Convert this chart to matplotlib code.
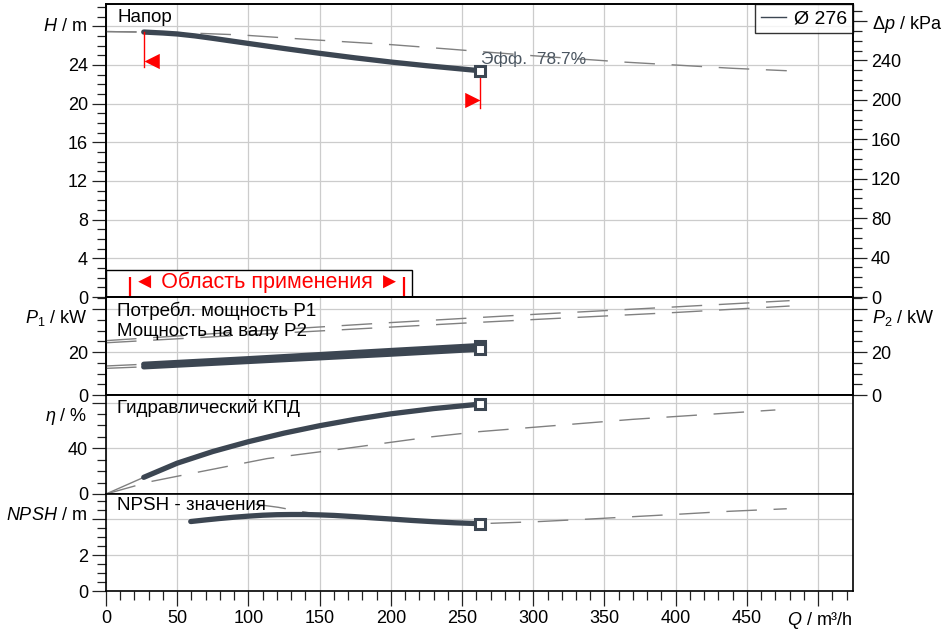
import numpy as np
import matplotlib
matplotlib.use('Agg')
import matplotlib.pyplot as plt
from matplotlib.ticker import MultipleLocator, FuncFormatter
from matplotlib.lines import Line2D
from matplotlib.patches import Rectangle

plt.rcParams['font.family'] = ['Liberation Sans', 'DejaVu Sans']
plt.rcParams['mathtext.fontset'] = 'custom'
plt.rcParams['mathtext.rm'] = 'Liberation Sans'
plt.rcParams['mathtext.it'] = 'Liberation Sans:italic'

# --- data ---
# head, solid (working curve) and the long dashed curve
q_h = [26.5, 40, 50, 62.5, 75, 100, 125, 150, 175, 200, 225, 262.6]
h_h = [27.4, 27.3, 27.2, 27.0, 26.75, 26.22, 25.7, 25.2, 24.73, 24.3, 23.92, 23.4]
q_h_ext = [0, 26.5]
h_h_ext = [27.45, 27.4]
q_h_d = [0, 50, 95, 140, 200, 240, 300, 363, 440, 478]
h_h_d = [27.45, 27.35, 27.1, 26.65, 26.1, 25.65, 24.95, 24.3, 23.65, 23.4]

# power P1 / P2
q_p = [26.5, 100, 150, 200, 262.6]
p1 = [14.3, 16.9, 18.8, 20.7, 23.0]
p2 = [13.1, 15.6, 17.3, 19.0, 21.3]
q_p_ext = [0, 26.5]
p1_ext = [13.5, 14.3]
p2_ext = [12.4, 13.1]
q_p_d = [0, 100, 200, 250, 300, 400, 480]
p1_d = [25.3, 29.6, 33.7, 35.6, 37.5, 41.0, 43.9]
p2_d = [24.3, 28.0, 31.6, 33.4, 35.1, 38.4, 41.4]

# hydraulic efficiency
q_eta = [26.5, 50, 75, 100, 125, 150, 175, 200, 230, 262.6]
eta = [14.6, 27.0, 37.2, 45.8, 53.3, 59.8, 65.4, 70.2, 74.8, 78.7]
q_eta_ext = [0, 26.5]
eta_ext = [0, 14.6]
q_eta_d = [0, 31, 60, 113, 160, 228, 262, 370, 470]
eta_d = [0, 10.8, 18.0, 31.0, 38.5, 50.0, 54.6, 65.4, 73.6]

# NPSH
q_npsh = [59.5, 70, 80, 90, 100, 110, 120, 130, 140, 150, 160, 175, 190, 200,
          215, 230, 245, 262.6]
npsh = [3.86, 3.95, 4.03, 4.1, 4.16, 4.21, 4.24, 4.25, 4.25, 4.23, 4.2, 4.13,
        4.05, 4.0, 3.92, 3.85, 3.79, 3.74]
q_npsh_d = [105, 121, 134, 146, 160, 200, 230, 262.6, 302, 340, 370, 405, 438, 478]
npsh_d = [4.82, 4.65, 4.46, 4.3, 4.2, 4.0, 3.85, 3.74, 3.85, 4.0, 4.13, 4.28, 4.43, 4.57]

app_range = [16.6, 209]
diameter = 'Ø 276'
rho_g = 9.81  # kPa per m

dark = '#3c4652'
grey = '#808080'
red = '#ff0000'

fig = plt.figure(figsize=(9.44, 6.34), dpi=100)

def rect(top, bottom):
    return [106 / 944, 1 - bottom / 634, (853 - 106) / 944, (bottom - top) / 634]

ax_h = fig.add_axes(rect(4, 297))
ax_p = fig.add_axes(rect(297, 395), sharex=ax_h)
ax_e = fig.add_axes(rect(395, 494), sharex=ax_h)
ax_n = fig.add_axes(rect(494, 591), sharex=ax_h)
axes = [ax_h, ax_p, ax_e, ax_n]


def hide_above(lim):
    return FuncFormatter(lambda v, p: '' if v > lim + 1e-9 else f'{v:g}')


def style_y(ax, ymax, major, minor, last_label):
    ax.set_ylim(0, ymax)
    ax.yaxis.set_major_locator(MultipleLocator(major))
    ax.yaxis.set_minor_locator(MultipleLocator(minor))
    ax.yaxis.set_major_formatter(hide_above(last_label))
    ax.tick_params(axis='y', which='major', length=10, width=0.9, pad=3,
                   labelsize=13, color='#222222')
    ax.tick_params(axis='y', which='minor', length=6.5, width=0.9, color='#222222')


def ylabel(ax, s, yv, right=False):
    if right:
        ax.annotate(s, xy=(1, yv), xycoords=('axes fraction', 'data'),
                    xytext=(13.5, 0), textcoords='offset points',
                    ha='left', va='center', fontsize=13)
    else:
        ax.annotate(s, xy=(0, yv), xycoords=('axes fraction', 'data'),
                    xytext=(-13.7, 0), textcoords='offset points',
                    ha='right', va='center', fontsize=13)


def title(ax, s, dy=-9.5):
    ax.annotate(s, xy=(0, 1), xycoords='axes fraction', xytext=(8, dy),
                textcoords='offset points', ha='left', va='center', fontsize=13.5)


for ax in axes:
    ax.set_xlim(0, 524.5)
    ax.xaxis.set_major_locator(MultipleLocator(50))
    ax.xaxis.set_minor_locator(MultipleLocator(10))
    ax.grid(True, which='major', color='#cccccc', lw=0.9)
    ax.set_axisbelow(True)
    for sp in ax.spines.values():
        sp.set_linewidth(1.2)
        sp.set_color('black')
    if ax is not ax_n:
        ax.tick_params(axis='x', which='both', bottom=False, labelbottom=False)

ax_n.tick_params(axis='x', which='major', length=10.5, width=0.9, pad=3,
                 labelsize=13, color='#222222')
ax_n.tick_params(axis='x', which='minor', length=6.5, width=0.9, color='#222222')
ax_n.xaxis.set_major_formatter(FuncFormatter(lambda v, p: '' if v > 460 else f'{v:g}'))
ax_n.annotate('$Q$ / m³/h', xy=(1, 0), xycoords='axes fraction', xytext=(0, -21.5),
              textcoords='offset points', ha='right', va='center', fontsize=13)

style_y(ax_h, 30.3, 4, 1, 24)
style_y(ax_p, 45.6, 20, 5, 20)
style_y(ax_e, 86.7, 40, 10, 40)
style_y(ax_n, 5.39, 2, 0.5, 2)

# right axes
ax_dp = ax_h.twinx()
style_y(ax_dp, 30.3 * rho_g, 40, 10, 240)
ax_p2 = ax_p.twinx()
style_y(ax_p2, 45.6, 20, 5, 20)
for t in (ax_dp, ax_p2):
    t.tick_params(axis='x', which='both', bottom=False, labelbottom=False)
    for sp in t.spines.values():
        sp.set_linewidth(1.2)

ylabel(ax_h, '$H$ / m', 28)
ylabel(ax_p, '$P_{1}$ / kW', 36)
ylabel(ax_e, r'$\eta$ / %', 68)
ylabel(ax_n, '$NPSH$ / m', 4.2)
ylabel(ax_dp, r'$\Delta p$ / kPa', 276, right=True)
ylabel(ax_p2, '$P_{2}$ / kW', 36, right=True)

dash_kw = dict(color=grey, lw=1.0, dashes=(22, 12), zorder=3)
solid_kw = dict(color=dark, lw=3.8, solid_capstyle='round',
                solid_joinstyle='round', zorder=4)
sq_kw = dict(marker='s', ms=6.5, mfc='white', mec=dark, mew=2.2, zorder=6, ls='none')

# head panel
ax_h.plot(q_h_d, h_h_d, **dash_kw)
ax_h.plot(q_h_ext, h_h_ext, **dash_kw)
ax_h.plot(q_h, h_h, **solid_kw)
ax_h.plot(q_h[-1], h_h[-1], **sq_kw)
ax_h.text(q_h[-1] + 0.5, 24.6, f'Эфф.  {eta[-1]:.1f}%', fontsize=12.5,
          color='#4b5661', va='center', ha='left', zorder=5)

# operating range indicators
tri_left = [(0, 0), (1.5, 0.75), (1.5, -0.75), (0, 0)]
tri_right = [(0, 0), (-1.5, 0.75), (-1.5, -0.75), (0, 0)]
ax_h.plot([q_h[0], q_h[0]], [h_h[0], 23.8], color=red, lw=1.0, zorder=5)
ax_h.plot(q_h[0], 24.4, marker=tri_left, ms=22, color=red, mew=0, zorder=5)
ax_h.plot([q_h[-1], q_h[-1]], [h_h[-1], 19.5], color=red, lw=1.0, zorder=5)
ax_h.plot(q_h[-1], 20.4, marker=tri_right, ms=22, color=red, mew=0, zorder=5)

# application range box
ax_h.add_patch(Rectangle((0, 0), app_range[1] + 6, 2.8, facecolor='white',
                         edgecolor='black', lw=1.0, zorder=5))
ax_h.vlines(app_range, 0, 2.1, color=red, lw=1.6, zorder=6)
ax_h.text(np.mean(app_range), 1.55, '◄ Область применения ►', color=red,
          fontsize=15.5, ha='center', va='center', zorder=7)

title(ax_h, 'Напор')
leg = ax_h.legend(handles=[Line2D([], [], color=dark, lw=1.0)], labels=[diameter],
                  loc='upper right', fontsize=14, frameon=True, fancybox=False,
                  borderaxespad=0, handlelength=1.3, handletextpad=0.4,
                  borderpad=0.3)
leg.get_frame().set_edgecolor('black')
leg.get_frame().set_linewidth(1.0)
leg.set_zorder(10)

# power panel
ax_p.plot(q_p_d, p1_d, **dash_kw)
ax_p.plot(q_p_d, p2_d, **dash_kw)
ax_p.plot(q_p_ext, p1_ext, **dash_kw)
ax_p.plot(q_p_ext, p2_ext, **dash_kw)
ax_p.plot(q_p, p1, **solid_kw)
ax_p.plot(q_p, p2, **solid_kw)
ax_p.plot(q_p[-1], p1[-1], **sq_kw)
ax_p.plot(q_p[-1], p2[-1], **sq_kw)
title(ax_p, 'Потребл. мощность P1', -10)
title(ax_p, 'Мощность на валу P2', -25)

# efficiency panel
ax_e.plot(q_eta_d, eta_d, **dash_kw)
ax_e.plot(q_eta_ext, eta_ext, color=grey, lw=1.0, zorder=3)
ax_e.plot(q_eta, eta, **solid_kw)
ax_e.plot(q_eta[-1], eta[-1], **sq_kw)
title(ax_e, 'Гидравлический КПД', -9.5)

# NPSH panel
ax_n.plot(q_npsh_d, npsh_d, **dash_kw)
ax_n.plot(q_npsh, npsh, **solid_kw)
ax_n.plot(q_npsh[-1], npsh[-1], **sq_kw)
title(ax_n, 'NPSH - значения', -8)

fig.savefig('out.png', dpi=100)
